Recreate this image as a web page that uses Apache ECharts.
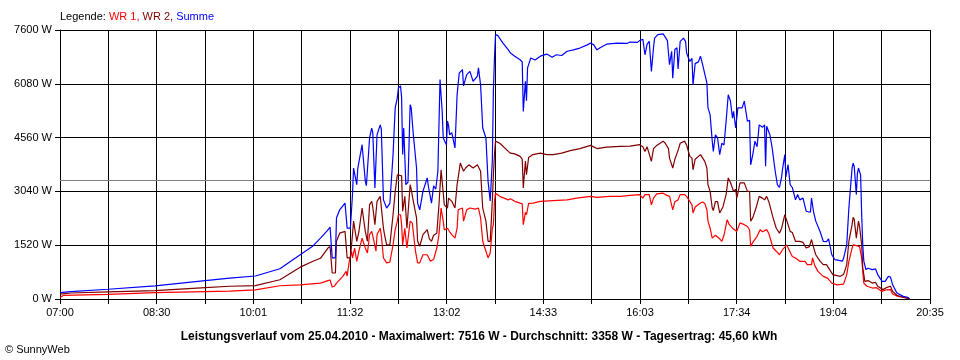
<!DOCTYPE html>
<html>
<head>
<meta charset="utf-8">
<script src="https://cdn.jsdelivr.net/npm/echarts@6/dist/echarts.min.js"></script>
<style>
html,body{margin:0;padding:0;background:#fff;}
#chart{width:960px;height:360px;}
</style>
</head>
<body>
<div id="chart"></div>
<script>
// Time in minutes after 07:00, power in W
const startLabel = '07:00';
const spanMinutes = 815; // 07:00 .. 20:35
const xTickLabels = ['07:00','08:30','10:01','11:32','13:02','14:33','16:03','17:34','19:04','20:35'];
const yTickValues = [0,1520,3040,4560,6080,7600];
const average = 3358;

const legendNames = ['WR 1', 'WR 2', 'Summe'];

const wr1 = [[0,40],[3,100],[45,130],[89,180],[136,210],[159,220],[183,260],[206,375],[225,400],[244,450],[251,520],[253,537],[255,340],[257,360],[259,450],[265,640],[268,780],[269,650],[271,1065],[273,1350],[274,1160],[276,1440],[278,1065],[280,1350],[283,1720],[284,1720],[286,1440],[288,1300],[290,1820],[292,1910],[294,1650],[296,1350],[297,1820],[300,2000],[301,1800],[303,1160],[306,1020],[309,1040],[312,1530],[314,1960],[316,2200],[317,2380],[319,2380],[320,2100],[321,1530],[323,2000],[325,1440],[328,2200],[330,2150],[331,2100],[333,1350],[335,1020],[337,1020],[340,1250],[344,1250],[347,1065],[350,1120],[353,1440],[355,1820],[357,2570],[359,2200],[360,1950],[363,2000],[365,1900],[367,1820],[370,1720],[372,2000],[373,2520],[377,2570],[378,2200],[381,2520],[384,2570],[389,2540],[392,2570],[394,2290],[396,1630],[399,1350],[401,1160],[403,1300],[405,2000],[406,2100],[407,2760],[408,2990],[412,2900],[420,2800],[422,2830],[426,2760],[431,2710],[433,2690],[434,2100],[436,2450],[437,2380],[439,2700],[443,2710],[450,2760],[462,2780],[475,2800],[484,2850],[497,2900],[503,2870],[515,2900],[525,2900],[534,2930],[543,2950],[546,2850],[548,2950],[552,2950],[554,2660],[556,2850],[559,2970],[565,2990],[567,2950],[571,2900],[574,2520],[576,2750],[579,2800],[581,2950],[585,2950],[587,2900],[592,2660],[593,2430],[595,2600],[600,2710],[602,2740],[604,2700],[606,2520],[607,2200],[609,2000],[611,1720],[612,1680],[614,1800],[616,1750],[618,1700],[620,1630],[622,1800],[625,2240],[627,2100],[630,2000],[634,1910],[637,2150],[641,2100],[644,2050],[646,1950],[647,1490],[649,1600],[653,1770],[656,1960],[658,1900],[662,1960],[664,1850],[668,1440],[671,1350],[674,1250],[677,1400],[681,1530],[682,1450],[686,1200],[689,1160],[693,1065],[698,1065],[700,970],[704,970],[705,1160],[707,950],[710,780],[715,640],[719,590],[723,450],[728,400],[734,420],[737,690],[739,1065],[742,1440],[743,1530],[747,1500],[749,1480],[751,1160],[752,780],[753,450],[756,360],[761,310],[765,320],[770,215],[774,260],[778,265],[780,140],[785,75],[793,30],[796,0]];

const wr2 = [[0,140],[10,170],[45,200],[89,235],[136,320],[159,360],[183,380],[206,545],[225,900],[237,1065],[244,1150],[251,1440],[253,1480],[255,735],[258,735],[259,1630],[262,1860],[267,1910],[269,1160],[272,1160],[274,1820],[275,2200],[278,1630],[280,1900],[283,2570],[284,2570],[286,1910],[288,1630],[290,2660],[292,2760],[293,2600],[295,2100],[297,2760],[300,2900],[301,2850],[303,2000],[304,1820],[306,1530],[309,1530],[312,2380],[314,3040],[316,3510],[317,3530],[320,3480],[321,2480],[323,2900],[325,2000],[328,3230],[329,3100],[331,2760],[334,2290],[335,1630],[337,1490],[340,1820],[344,1960],[346,1700],[348,1630],[350,1800],[353,1860],[355,2660],[357,3650],[359,3000],[360,2660],[363,2570],[364,2850],[367,2760],[370,2570],[372,3230],[375,3840],[378,3610],[380,3700],[383,3790],[387,3700],[391,3790],[392,3840],[394,3610],[396,2570],[399,2200],[401,1630],[403,1630],[405,2760],[406,3510],[407,4080],[408,4460],[412,4400],[420,4170],[422,4120],[426,4100],[431,4030],[433,3950],[434,3140],[436,3900],[437,3510],[439,4000],[443,4080],[450,4120],[456,4080],[462,4080],[470,4120],[478,4190],[487,4250],[497,4340],[503,4250],[512,4290],[525,4310],[534,4320],[543,4360],[546,4300],[548,4170],[550,4300],[554,3890],[556,4250],[559,4340],[565,4460],[567,4400],[570,4250],[571,3980],[574,3700],[576,3950],[579,4200],[581,4400],[585,4460],[587,4350],[590,4030],[592,3980],[593,3650],[595,3950],[600,4080],[604,3890],[606,3700],[607,3230],[609,3040],[611,2570],[612,2500],[614,2750],[616,2750],[618,2430],[621,2600],[624,2950],[626,3420],[628,3300],[631,3040],[633,3100],[634,2850],[637,3280],[641,3280],[644,3040],[646,3040],[647,2200],[649,2300],[652,2570],[655,2900],[658,2850],[660,2800],[662,2900],[664,2750],[668,2290],[671,2000],[674,1860],[676,2000],[679,2380],[681,2200],[684,1910],[686,1880],[689,1630],[693,1630],[696,1600],[699,1440],[702,1480],[704,1680],[706,1450],[708,1250],[712,1070],[715,970],[718,970],[721,830],[724,690],[731,640],[734,690],[737,970],[739,1630],[742,2100],[743,2310],[744,2250],[746,1720],[748,2200],[749,2050],[751,1530],[752,880],[754,500],[757,520],[761,450],[764,470],[766,360],[771,265],[774,320],[778,360],[780,215],[784,105],[790,50],[796,0]];

const summe = [[0,180],[10,210],[45,275],[89,370],[136,520],[159,590],[183,650],[206,855],[225,1250],[237,1500],[244,1720],[250,1920],[253,2030],[255,1160],[258,1160],[259,2290],[262,2520],[267,2710],[269,2000],[272,2000],[274,2950],[275,3700],[278,3230],[279,3700],[283,4360],[284,4400],[286,3330],[287,3200],[290,4550],[292,4830],[293,4700],[295,3140],[297,4640],[300,4920],[301,4800],[303,2800],[306,2570],[309,2700],[312,4080],[314,5400],[316,5680],[317,5960],[319,6020],[320,5700],[321,4080],[322,4830],[324,3230],[326,3300],[328,5490],[329,5400],[331,4640],[334,3700],[335,2710],[337,2520],[340,3040],[344,3420],[345,3200],[348,2710],[350,3200],[352,3100],[354,3610],[356,6200],[358,5310],[359,4550],[362,4360],[363,5030],[364,4900],[365,4640],[367,4700],[370,4270],[372,5770],[374,6380],[377,6480],[378,6020],[381,6340],[384,6430],[387,6150],[391,6300],[392,6530],[394,6050],[396,4830],[399,4550],[401,3330],[403,2770],[405,3900],[406,5880],[407,6810],[408,7470],[410,7450],[415,7230],[420,7040],[422,6950],[426,6860],[431,6760],[433,6700],[434,5300],[436,6150],[437,5600],[438,6530],[441,6810],[445,6750],[450,6860],[456,6920],[461,6830],[465,6900],[470,6880],[475,7000],[481,7040],[487,7090],[494,7180],[497,7230],[500,7180],[503,7040],[506,7100],[512,7200],[522,7230],[531,7220],[534,7260],[541,7250],[543,7300],[546,7340],[548,6900],[550,7200],[552,7280],[554,6430],[556,7100],[557,7370],[560,7470],[565,7490],[567,7400],[569,7300],[570,6950],[571,6620],[573,7000],[574,6240],[576,7050],[578,7100],[579,6500],[581,7280],[584,7370],[586,7280],[587,6950],[590,6710],[592,6800],[593,6050],[595,6650],[598,6700],[600,6860],[602,6620],[606,6100],[607,5400],[609,5210],[611,4460],[612,4170],[614,4640],[616,4550],[618,4080],[620,4400],[622,4350],[624,5020],[626,5770],[628,5600],[630,5110],[631,5300],[633,4830],[635,5400],[639,5400],[641,5590],[644,5020],[646,5050],[647,3790],[649,4080],[651,4460],[653,4300],[655,4920],[658,4850],[660,4920],[661,3750],[662,4880],[665,4640],[667,4300],[670,3610],[672,3230],[674,3150],[676,3450],[677,3700],[679,4080],[680,3450],[682,3800],[684,3230],[686,3150],[689,2800],[691,2950],[693,2800],[696,2850],[699,2480],[703,2450],[704,2850],[706,2450],[708,2200],[712,1910],[715,1630],[718,1620],[720,1700],[723,1250],[726,1110],[733,1070],[734,1150],[737,1530],[739,2570],[742,3700],[743,3840],[744,3750],[746,2950],[747,3550],[748,3700],[750,3500],[751,2380],[752,1530],[753,1070],[755,830],[757,870],[761,830],[764,850],[766,690],[770,500],[773,500],[776,640],[778,620],[780,400],[784,170],[790,75],[794,50],[796,0]];

const captionText = 'Leistungsverlauf vom 25.04.2010 - Maximalwert: 7516 W - Durchschnitt: 3358 W - Tagesertrag: 45,60 kWh';
const copyrightText = '\u00A9 SunnyWeb';

// axis is laid out in grid steps (18 steps between 07:00 and 20:35)
const steps = (xTickLabels.length - 1) * 2;
const stepMinutes = spanMinutes / steps;
const toSteps = arr => arr.map(p => [p[0] / stepMinutes, p[1]]);

const FONT = '"Liberation Sans", Arial, sans-serif';
const chart = echarts.init(document.getElementById('chart'), null, {renderer: 'canvas'});

chart.setOption({
  animation: false,
  backgroundColor: '#ffffff',
  textStyle: {fontFamily: FONT},
  title: [
    {
      left: 60, top: 11,
      text: '{k|Legende:} {r|' + legendNames[0] + ',} {d|' + legendNames[1] + ',} {b|' + legendNames[2] + '}',
      textStyle: {
        fontSize: 11, fontWeight: 'normal', fontFamily: FONT,
        rich: {
          k: {color: '#000000', fontSize: 11, fontFamily: FONT},
          r: {color: '#ff0000', fontSize: 11, fontFamily: FONT},
          d: {color: '#800000', fontSize: 11, fontFamily: FONT},
          b: {color: '#0000ff', fontSize: 11, fontFamily: FONT}
        }
      },
      padding: 0
    },
    {
      left: 479, top: 331, textAlign: 'center',
      text: captionText,
      textStyle: {fontSize: 12, fontWeight: 'bold', color: '#000', fontFamily: FONT},
      padding: 0
    },
    {
      left: 5, top: 344,
      text: copyrightText,
      textStyle: {fontSize: 11, fontWeight: 'normal', color: '#000', fontFamily: FONT},
      padding: 0
    }
  ],
  grid: {left: 60, right: 30, top: 30, bottom: 61, containLabel: false},
  xAxis: {
    type: 'value', min: 0, max: steps, interval: 1,
    axisLine: {show: true, lineStyle: {color: '#000', width: 1}},
    axisTick: {show: true, length: 5, lineStyle: {color: '#000', width: 1}},
    axisLabel: {
      color: '#000', fontSize: 11, fontFamily: FONT, margin: 8,
      showMinLabel: true, showMaxLabel: true,
      formatter: v => {
        const i = Math.round(v);
        return i % 2 === 0 ? xTickLabels[i / 2] : '';
      }
    },
    splitLine: {show: true, lineStyle: {color: '#000', width: 1}}
  },
  yAxis: {
    type: 'value', min: yTickValues[0], max: yTickValues[yTickValues.length - 1],
    interval: yTickValues[1] - yTickValues[0],
    axisLine: {show: true, lineStyle: {color: '#000', width: 1}},
    axisTick: {show: true, length: 5, lineStyle: {color: '#000', width: 1}},
    axisLabel: {color: '#000', fontSize: 11, fontFamily: FONT, margin: 8, formatter: v => String(Math.round(v)) + ' W'},
    splitLine: {show: true, lineStyle: {color: '#000', width: 1}}
  },
  series: [
    {
      name: legendNames[0], type: 'line', data: toSteps(wr1), showSymbol: false,
      lineStyle: {color: '#ff0000', width: 1.2}, itemStyle: {color: '#ff0000'}, z: 3,
      markLine: {
        silent: true, symbol: ['none', 'none'], label: {show: false},
        lineStyle: {color: '#808080', width: 1, type: 'solid'},
        data: [{yAxis: average}], z: 2
      }
    },
    {
      name: legendNames[1], type: 'line', data: toSteps(wr2), showSymbol: false,
      lineStyle: {color: '#800000', width: 1.2}, itemStyle: {color: '#800000'}, z: 4
    },
    {
      name: legendNames[2], type: 'line', data: toSteps(summe), showSymbol: false,
      lineStyle: {color: '#0000ff', width: 1.2}, itemStyle: {color: '#0000ff'}, z: 5
    }
  ]
});
</script>
</body>
</html>
